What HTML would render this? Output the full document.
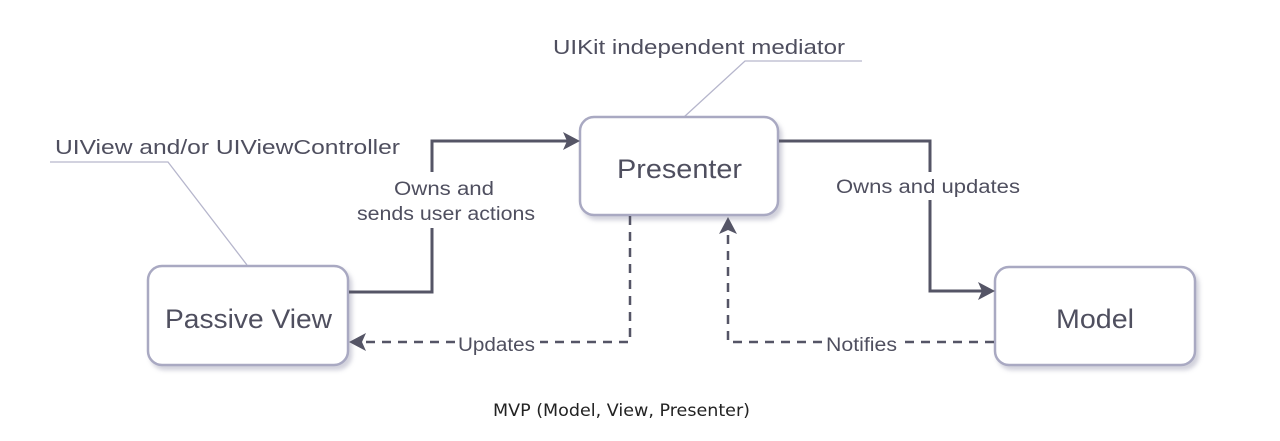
<!DOCTYPE html>
<html><head><meta charset="utf-8"><style>
html,body{margin:0;padding:0;background:#fff;}
svg{display:block;}
text{font-family:"Liberation Sans",sans-serif;fill:#4f4f5f;}
</style></head><body>
<svg width="1280" height="441" viewBox="0 0 1280 441" xmlns="http://www.w3.org/2000/svg">
<defs>
<filter id="sh" x="-10%" y="-10%" width="130%" height="130%"><feDropShadow dx="3" dy="4" stdDeviation="2" flood-color="#9a9ab0" flood-opacity="0.45"/></filter>
</defs>
<g stroke="#b6b6cc" stroke-width="1.3" fill="none">
<path d="M50 162 L168 162 L247 265"/>
<path d="M862 61 L745 61 L684 117"/>
</g>
<text x="55" y="154" font-size="20" textLength="345" lengthAdjust="spacingAndGlyphs">UIView and/or UIViewController</text>
<text x="553" y="54" font-size="20" textLength="292" lengthAdjust="spacingAndGlyphs">UIKit independent mediator</text>
<g fill="#fff" stroke="#a9a9c2" stroke-width="2.5" filter="url(#sh)">
<rect x="148" y="266" width="200" height="99" rx="14"/>
<rect x="580" y="117" width="198" height="98" rx="14"/>
<rect x="995" y="267" width="200" height="98" rx="14"/>
</g>
<text x="165" y="328" font-size="27" textLength="167" lengthAdjust="spacingAndGlyphs">Passive View</text>
<text x="617" y="178" font-size="27" textLength="125" lengthAdjust="spacingAndGlyphs">Presenter</text>
<text x="1056" y="328" font-size="27" textLength="78" lengthAdjust="spacingAndGlyphs">Model</text>
<g stroke="#555566" stroke-width="3" fill="none">
<path d="M349 292 L432 292 L432 228"/>
<path d="M432 172 L432 141 L570 141"/>
<path d="M779 141 L930 141 L930 172"/>
<path d="M930 200 L930 291 L985 291"/>
</g>
<g fill="#555566">
<path d="M580 141 L563 132 L567 141 L563 150 Z"/>
<path d="M995 291 L978 282 L982 291 L978 300 Z"/>
</g>
<g stroke="#555566" stroke-width="2.5" fill="none" stroke-dasharray="9 7">
<path d="M630 216 L630 342 L540 342"/>
<path d="M455 342 L360 342"/>
<path d="M994 342 L903 342"/>
<path d="M822 342 L728 342 L728 232"/>
</g>
<g fill="#555566">
<path d="M349 342 L366 333 L362 342 L366 351 Z"/>
<path d="M728 217 L719 234 L728 230 L737 234 Z"/>
</g>
<text x="394" y="195" font-size="19" textLength="100" lengthAdjust="spacingAndGlyphs">Owns and</text>
<text x="357" y="220" font-size="19" textLength="178" lengthAdjust="spacingAndGlyphs">sends user actions</text>
<text x="836" y="193" font-size="19" textLength="184" lengthAdjust="spacingAndGlyphs">Owns and updates</text>
<text x="458" y="351" font-size="19" textLength="77" lengthAdjust="spacingAndGlyphs">Updates</text>
<text x="826" y="351" font-size="19" textLength="71" lengthAdjust="spacingAndGlyphs">Notifies</text>
<text x="493" y="416" font-size="17" textLength="257" lengthAdjust="spacingAndGlyphs" style="fill:#222;font-family:'DejaVu Sans','Liberation Sans',sans-serif">MVP (Model, View, Presenter)</text>
</svg>
</body></html>
